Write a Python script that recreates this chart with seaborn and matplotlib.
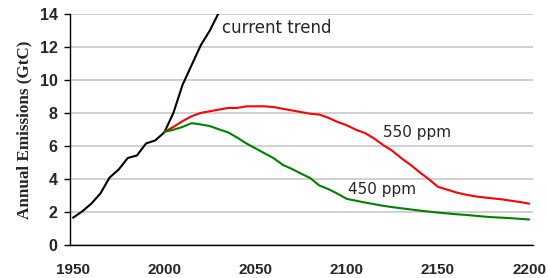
import numpy as np
import pandas as pd
import matplotlib
matplotlib.use("Agg")
import matplotlib.pyplot as plt
import seaborn as sns

# historical emissions + current trend (GtC), 5-year steps
trend_years = [1950, 1955, 1960, 1965, 1970, 1975, 1980, 1985, 1990, 1995,
               2000, 2005, 2010, 2015, 2020, 2025, 2030]
trend_vals = [1.65, 2.03, 2.5, 3.12, 4.08, 4.57, 5.27, 5.42, 6.15, 6.33,
              6.82, 8.0, 9.7, 10.9, 12.1, 13.0, 14.1]

# stabilisation scenarios 2000-2200
scen_years = list(range(2000, 2201, 5))
ppm550 = [6.85, 7.15, 7.5, 7.8, 8.0, 8.1, 8.2, 8.3, 8.3, 8.4,
          8.4, 8.4, 8.35, 8.25, 8.15, 8.05, 7.95, 7.9, 7.7, 7.45,
          7.25, 6.98, 6.78, 6.45, 6.05, 5.7, 5.25, 4.85, 4.4, 3.98,
          3.52, 3.35, 3.18, 3.05, 2.95, 2.88, 2.82, 2.76, 2.68, 2.6,
          2.5]
ppm450 = [6.85, 6.98, 7.15, 7.38, 7.3, 7.2, 7.0, 6.82, 6.5, 6.15,
          5.85, 5.55, 5.25, 4.85, 4.6, 4.32, 4.05, 3.6, 3.38, 3.1,
          2.79, 2.68, 2.57, 2.47, 2.37, 2.29, 2.22, 2.15, 2.08, 2.02,
          1.96, 1.91, 1.86, 1.82, 1.77, 1.72, 1.68, 1.65, 1.62, 1.58,
          1.54]

x_ticks = [1950, 2000, 2050, 2100, 2150, 2200]
y_ticks = [0, 2, 4, 6, 8, 10, 12, 14]

sns.set_style("white")
plt.rcParams['font.family'] = ['Liberation Sans', 'DejaVu Sans']

fig = plt.figure(figsize=(5.48, 2.78), dpi=100)
ax = fig.add_axes([0.128, 0.119, 0.845, 0.831])

sns.lineplot(x=trend_years, y=trend_vals, color="black", linewidth=1.5, ax=ax)
sns.lineplot(x=scen_years, y=ppm550, color="#ff0000", linewidth=1.5, ax=ax)
sns.lineplot(x=scen_years, y=ppm450, color="#008000", linewidth=1.5, ax=ax)

ax.set_xlim(1948.4, 2202.2)
ax.set_ylim(0, 14)
ax.set_xticks(x_ticks)
ax.set_yticks(y_ticks)
ax.set_xticklabels([str(t) for t in x_ticks], fontsize=11, fontweight="bold")
ax.set_yticklabels([str(t) for t in y_ticks], fontsize=11.5, fontweight="bold")
ax.tick_params(axis="x", length=0, pad=13)
ax.tick_params(axis="y", length=4, width=1, color="black", direction="out", pad=5, left=True)

ax.grid(axis="y", color="#c8c8c8", linewidth=1.2)
ax.set_axisbelow(True)
for s in ["top", "right"]:
    ax.spines[s].set_visible(False)
for s in ["left", "bottom"]:
    ax.spines[s].set_color("black")
    ax.spines[s].set_linewidth(1)

ax.set_ylabel("Annual Emissions (GtC)", fontsize=12.3, fontweight="bold",
              family="Liberation Serif", labelpad=5)

ax.text(2031.7, 13.15, "current trend", fontsize=12, family="DejaVu Sans",
        ha="left", va="center")
ax.text(2120, 6.79, "550 ppm", fontsize=11, family="DejaVu Sans",
        ha="left", va="center")
ax.text(2100.6, 3.33, "450 ppm", fontsize=11, family="DejaVu Sans",
        ha="left", va="center")

fig.savefig("out.png", dpi=100)
